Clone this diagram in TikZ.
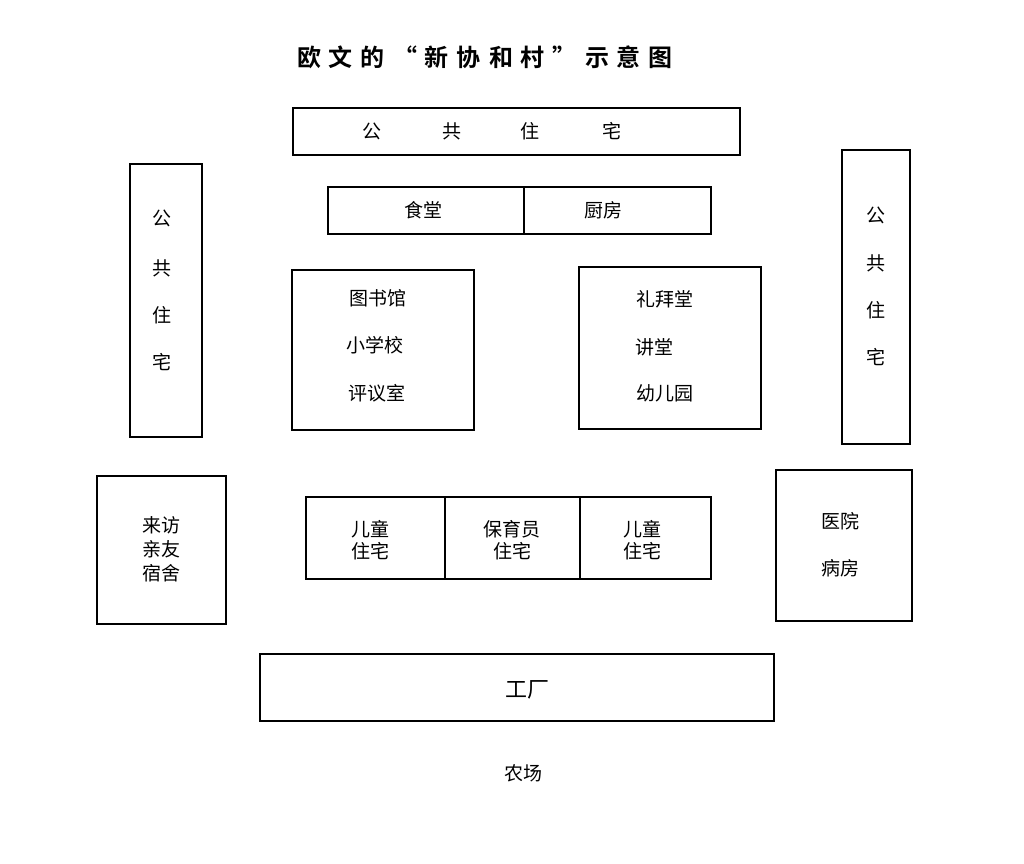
\documentclass[tikz,border=0pt]{standalone}
\usepackage{fontspec}
\newfontfamily\cjk{Noto Sans CJK SC}
\newfontfamily\cjkb{Noto Sans CJK SC Bold}
\begin{document}
\begin{tikzpicture}[x=1pt,y=-1pt,
  box/.style={draw=black,line width=1.2pt},
  txt/.style={font=\cjk\fontsize{19}{22}\selectfont,inner sep=0pt,align=center}]
\useasboundingbox (0,0) rectangle (1024,863);
\node[font=\cjkb\fontsize{24}{28}\selectfont] (title) at (485,57) {欧\hspace{8pt}文\hspace{8pt}的\hspace{8pt}“\hspace{8pt}新\hspace{8pt}协\hspace{8pt}和\hspace{8pt}村\hspace{8pt}”\hspace{8pt}示\hspace{8pt}意\hspace{8pt}图};
% top public housing
\draw[box] (293,108) rectangle (740,155);
\foreach \x/\c [count=\i] in {372/公,452/共,530/住,612/宅} \node[txt] (top\i) at (\x,131) {\c};
% dining / kitchen
\draw[box] (328,187) rectangle (711,234);
\draw[box] (524,187) -- (524,234);
\node[txt] (dining) at (423,210) {食堂};
\node[txt] (kitchen) at (603,210) {厨房};
% left column
\draw[box] (130,164) rectangle (202,437);
\foreach \y/\c [count=\i] in {218/公,268/共,315/住,362/宅} \node[txt] (l\i) at (162,\y) {\c};
% right column
\draw[box] (842,150) rectangle (910,444);
\foreach \y/\c [count=\i] in {215/公,263/共,310/住,357/宅} \node[txt] (r\i) at (876,\y) {\c};
% library
\draw[box] (292,270) rectangle (474,430);
\node[txt] (lib1) at (378,298) {图书馆};
\node[txt] (lib2) at (375,345) {小学校};
\node[txt] (lib3) at (377,393) {评议室};
% chapel
\draw[box] (579,267) rectangle (761,429);
\node[txt] (ch1) at (665,299) {礼拜堂};
\node[txt] (ch2) at (654,347) {讲堂};
\node[txt] (ch3) at (665,393) {幼儿园};
% visitors
\draw[box] (97,476) rectangle (226,624);
\node[txt,font=\cjk\fontsize{19}{24}\selectfont] (visit) at (161,549) {来访\\亲友\\宿舍};
% children row
\draw[box] (306,497) rectangle (711,579);
\draw[box] (445,497) -- (445,579);
\draw[box] (580,497) -- (580,579);
\node[txt] (c1) at (370,540) {儿童\\住宅};
\node[txt] (c2) at (512,540) {保育员\\住宅};
\node[txt] (c3) at (642,540) {儿童\\住宅};
% hospital
\draw[box] (776,470) rectangle (912,621);
\node[txt] (h1) at (840,521) {医院};
\node[txt] (h2) at (840,568) {病房};
% factory
\draw[box] (260,654) rectangle (774,721);
\node[txt,font=\cjk\fontsize{22}{26}\selectfont] (factory) at (527,690) {工厂};
\node[txt] (farm) at (523,773) {农场};
\end{tikzpicture}
\end{document}
